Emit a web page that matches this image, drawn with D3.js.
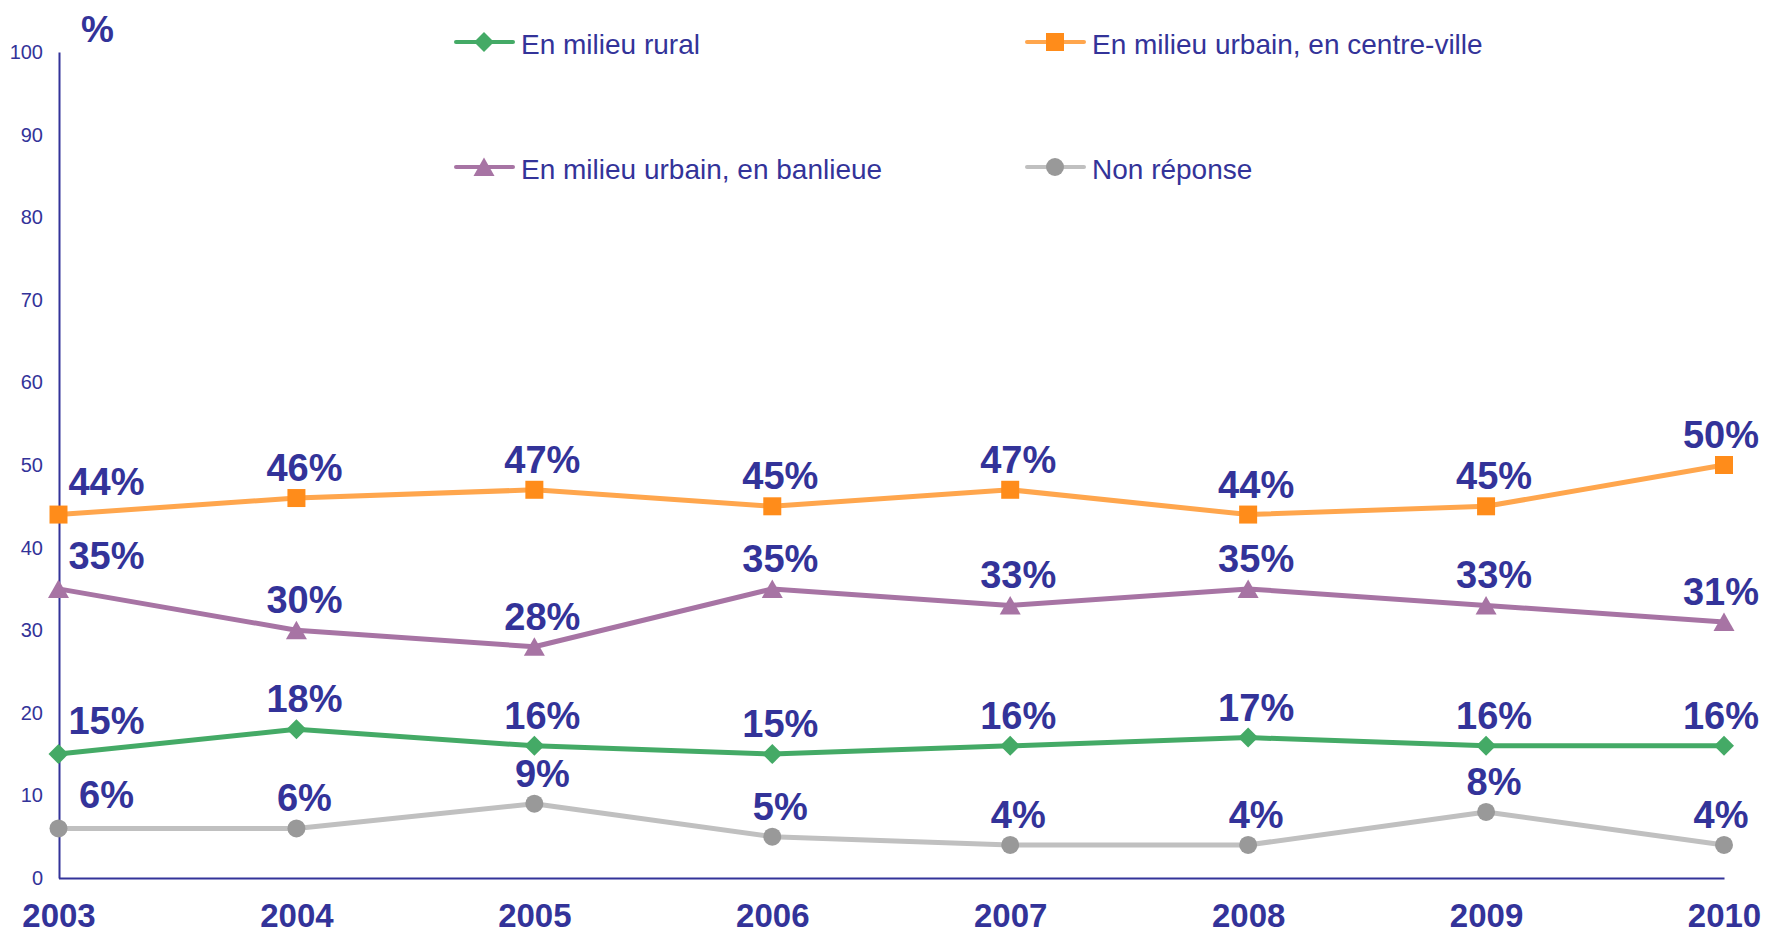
<!DOCTYPE html>
<html><head><meta charset="utf-8">
<script src="https://cdn.jsdelivr.net/npm/d3@7"></script>
<style>body{margin:0;background:#fff}svg{display:block}text{font-family:"Liberation Sans",Arial,sans-serif}</style>
</head><body><svg id="c" width="1766" height="935"></svg>
<script>
const years = ["2003","2004","2005","2006","2007","2008","2009","2010"];
const rural = [15,18,16,15,16,17,16,16];
const centreVille = [44,46,47,45,47,44,45,50];
const banlieue = [35,30,28,35,33,35,33,31];
const nonReponse = [6,6,9,5,4,4,8,4];
const yTicks = [0,10,20,30,40,50,60,70,80,90,100];
const seriesNames = ["En milieu rural","En milieu urbain, en centre-ville","En milieu urbain, en banlieue","Non réponse"];

const TXT = "#333399";
const series = [
  {name: seriesNames[0], values: rural, line:"#44AA66", mark:"#44AA66", sym:"diamond"},
  {name: seriesNames[1], values: centreVille, line:"#FFA64D", mark:"#FF8C1A", sym:"square"},
  {name: seriesNames[2], values: banlieue, line:"#A774A4", mark:"#A774A4", sym:"triangle"},
  {name: seriesNames[3], values: nonReponse, line:"#C0C0C0", mark:"#999999", sym:"circle"}
];

const svg = d3.select("#c");
const x = d3.scalePoint().domain(years).range([58.5, 1724]);
const y = d3.scaleLinear().domain([0,100]).range([878, 52]);

// axes
const yAxis = svg.append("g").attr("transform","translate(59,0)")
  .call(d3.axisLeft(y).tickValues(yTicks).tickSize(0).tickPadding(16));
yAxis.select(".domain").attr("stroke",TXT).attr("stroke-width",2);
yAxis.selectAll("text").attr("fill",TXT).style("font-size","20px");

const xAxis = svg.append("g").attr("transform","translate(0,878)")
  .call(d3.axisBottom(x).tickSize(0));
xAxis.select(".domain").attr("stroke",TXT).attr("stroke-width",2);
xAxis.selectAll("text").attr("fill",TXT).attr("dy","0").attr("y",49)
  .style("font-size","33px").style("font-weight","bold");

svg.append("text").attr("x",81).attr("y",42).attr("fill",TXT)
  .style("font-size","37px").style("font-weight","bold").text("%");

const symPaths = {
  diamond: "M0,-10L10,0L0,10L-10,0Z",
  square: "M-9,-9H9V9H-9Z",
  triangle: "M0,-9.5L10.5,9L-10.5,9Z",
  circle: d3.symbol().type(d3.symbolCircle).size(Math.PI*81)()
};

const line = d3.line().x((d,i)=>x(years[i])).y(d=>y(d));
series.forEach(s=>{
  svg.append("path").attr("d",line(s.values)).attr("fill","none")
    .attr("stroke",s.line).attr("stroke-width",5).attr("stroke-linejoin","round");
});
series.forEach(s=>{
  svg.selectAll(null).data(s.values).enter().append("path")
    .attr("d",symPaths[s.sym])
    .attr("transform",(d,i)=>`translate(${x(years[i])},${y(d)})`)
    .attr("fill",s.mark);
});
series.forEach(s=>{
  svg.selectAll(null).data(s.values).enter().append("text")
    .attr("x",(d,i)=>x(years[i]) + (i===0?48:(i===years.length-1?-3:8)))
    .attr("y",(d,i)=>y(d)-(i===0?20:17))
    .attr("text-anchor","middle").attr("fill",TXT)
    .style("font-size","38px").style("font-weight","bold")
    .text(d=>d+"%");
});

// legend
const legPos = [[456,42],[1027,42],[456,167],[1027,167]];
series.forEach((s,k)=>{
  const [lx,ly] = legPos[k];
  const g = svg.append("g").attr("transform",`translate(${lx},${ly})`);
  g.append("line").attr("x1",0).attr("x2",57).attr("y1",0).attr("y2",0)
    .attr("stroke",s.line).attr("stroke-width",4).attr("stroke-linecap","round");
  g.append("path").attr("d",symPaths[s.sym]).attr("transform","translate(28,0)").attr("fill",s.mark);
  g.append("text").attr("x",65).attr("y",12).attr("fill",TXT).style("font-size","28px").text(s.name);
});
</script></body></html>
